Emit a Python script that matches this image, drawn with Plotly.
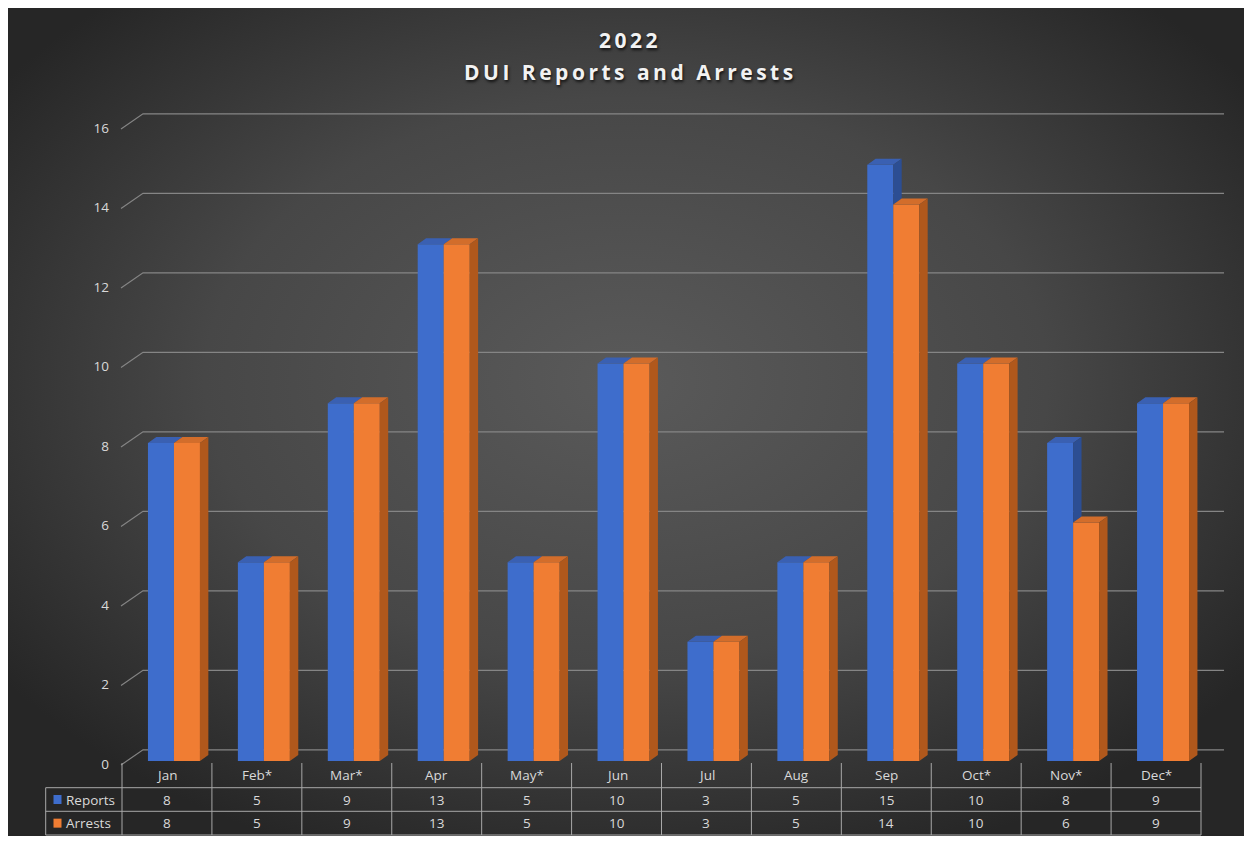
import base64
import plotly.graph_objects as go

# ---------------- data ----------------
months = ["Jan", "Feb*", "Mar*", "Apr", "May*", "Jun", "Jul", "Aug", "Sep", "Oct*", "Nov*", "Dec*"]
reports = [8, 5, 9, 13, 5, 10, 3, 5, 15, 10, 8, 9]
arrests = [8, 5, 9, 13, 5, 10, 3, 5, 14, 10, 6, 9]
y_ticks = [0, 2, 4, 6, 8, 10, 12, 14, 16]
series_names = ["Reports", "Arrests"]
title_year = "2022"
title_main = "DUI Reports and Arrests"

# ---------------- geometry / style ----------------
W, H = 1236, 828
BLUE, ORANGE = "#3e6dcc", "#f07d33"
BLUE_TOP, BLUE_SIDE = "#3a60b2", "#2c4e93"
ORANGE_TOP, ORANGE_SIDE = "#d26d2b", "#b0581c"
TXT = "#d9d9d9"
GRID = "#858585"
TABLE_LINE = "#a8a8a8"
FONT = "Open Sans"

def fx(p):
    return p / W

def fy(p):
    return 1 - p / H

n = len(months)
X0, X1 = 114.0, 1193.0
cell = (X1 - X0) / n
shift = 7.0 / cell
Y_RANGE = [0, 16]
Y_DOM = [fy(753), fy(117)]
px_per_unit = (753 - 117) / (Y_RANGE[1] - Y_RANGE[0])

def ypaper(v):
    return Y_DOM[0] + (v - Y_RANGE[0]) / (Y_RANGE[1] - Y_RANGE[0]) * (Y_DOM[1] - Y_DOM[0])

bw = 26.0 / cell          # single bar width in category units
dx = 8.4 / cell           # 3D depth, x
dy = 6.0 / px_per_unit    # 3D depth, y
idx = list(range(n))

fig = go.Figure()
fig.add_trace(go.Bar(x=idx, y=reports, name=series_names[0], marker=dict(color=BLUE, line=dict(width=0)),
                     hoverinfo="skip"))
fig.add_trace(go.Bar(x=idx, y=arrests, name=series_names[1], marker=dict(color=ORANGE, line=dict(width=0)),
                     hoverinfo="skip"))

# 3D faces computed from the data values
def poly_trace(polys, color):
    xs, ys = [], []
    for p in polys:
        for (a, b) in p:
            xs.append(a)
            ys.append(b)
        xs.append(p[0][0]); ys.append(p[0][1])
        xs.append(None); ys.append(None)
    return go.Scatter(x=xs, y=ys, mode="lines", fill="toself", fillcolor=color,
                      line=dict(width=0, color=color), hoverinfo="skip", showlegend=False)

blue_top, blue_side, or_top, or_side = [], [], [], []
for i, (vb, vo) in enumerate(zip(reports, arrests)):
    bl, bm, br = i - bw, i, i + bw
    blue_top.append([(bl, vb), (bm, vb), (bm + dx, vb + dy), (bl + dx, vb + dy)])
    if vb > vo:
        blue_side.append([(bm, vo), (bm, vb), (bm + dx, vb + dy), (bm + dx, vo + dy)])
    or_top.append([(bm, vo), (br, vo), (br + dx, vo + dy), (bm + dx, vo + dy)])
    or_side.append([(br, 0), (br, vo), (br + dx, vo + dy), (br + dx, dy)])

fig.add_trace(poly_trace(blue_top, BLUE_TOP))
if blue_side:
    fig.add_trace(poly_trace(blue_side, BLUE_SIDE))
fig.add_trace(poly_trace(or_top, ORANGE_TOP))
fig.add_trace(poly_trace(or_side, ORANGE_SIDE))

shapes = []
# 3D back-wall gridlines
for v in y_ticks:
    yf, yb = ypaper(v - 0.1), ypaper(v + 0.28)
    shapes.append(dict(type="path", xref="paper", yref="paper", layer="below",
                       path=f"M {fx(113)},{yf} L {fx(135)},{yb} L {fx(1216)},{yb}",
                       line=dict(color=GRID, width=1.2)))

# data table
row_y = [755, 779.7, 803.3, 827]
leg_left = 37.7
for yy in row_y[1:]:
    shapes.append(dict(type="line", xref="paper", yref="paper", x0=fx(leg_left), x1=fx(X1),
                       y0=fy(yy), y1=fy(yy), line=dict(color=TABLE_LINE, width=1)))
for k in range(n + 1):
    xx = X0 + k * cell
    shapes.append(dict(type="line", xref="paper", yref="paper", x0=fx(xx), x1=fx(xx),
                       y0=fy(row_y[0]), y1=fy(row_y[-1]), line=dict(color=TABLE_LINE, width=1)))
shapes.append(dict(type="line", xref="paper", yref="paper", x0=fx(leg_left), x1=fx(leg_left),
                   y0=fy(row_y[1]), y1=fy(row_y[-1]), line=dict(color=TABLE_LINE, width=1)))

annotations = []
row_centers = [(row_y[j] + row_y[j + 1]) / 2 for j in range(3)]
cell_font = dict(family=FONT, size=13.5, color=TXT)
for k, m in enumerate(months):
    cx = fx(X0 + (k + 0.5) * cell)
    for j, txt in enumerate([m, str(reports[k]), str(arrests[k])]):
        annotations.append(dict(x=cx, y=fy(row_centers[j]), xref="paper", yref="paper", text=txt,
                                xanchor="center", yanchor="middle",
                                showarrow=False, font=cell_font))

for j, (name, col) in enumerate(zip(series_names, [BLUE, ORANGE])):
    cy = row_centers[j + 1]
    shapes.append(dict(type="rect", xref="paper", yref="paper", x0=fx(45.5), x1=fx(53.5),
                       y0=fy(cy - 4.5), y1=fy(cy + 4.5), fillcolor=col, line=dict(width=0)))
    annotations.append(dict(x=fx(55.5), y=fy(cy), xref="paper", yref="paper", text=name,
                            xanchor="left", yanchor="middle",
                            showarrow=False, font=cell_font))

# titles
title_font = dict(family=FONT, size=21, color="#f2f2f2", weight="bold",
                  shadow="1px 2px 3px rgba(0,0,0,0.75)")
annotations.append(dict(x=fx(622), y=fy(31.5), xref="paper", yref="paper",
                        text=f"<span style='letter-spacing:3.5px'>{title_year}</span>",
                        xanchor="center", yanchor="middle", showarrow=False, font=title_font))
annotations.append(dict(x=fx(622), y=fy(63.8), xref="paper", yref="paper",
                        text=f"<span style='letter-spacing:3.5px'>{title_main}</span>",
                        xanchor="center", yanchor="middle", showarrow=False, font=title_font))

# radial gradient background
svg = (f"<svg xmlns='http://www.w3.org/2000/svg' width='{W}' height='{H}'>"
       "<defs><radialGradient id='g' cx='50%' cy='45%' r='62%'>"
       "<stop offset='0' stop-color='#5a5a5a'/><stop offset='0.55' stop-color='#474747'/>"
       "<stop offset='1' stop-color='#262626'/></radialGradient></defs>"
       "<rect width='100%' height='100%' fill='url(#g)'/></svg>")
bg_src = "data:image/svg+xml;base64," + base64.b64encode(svg.encode()).decode()

fig.update_layout(
    width=W, height=H,
    margin=dict(l=0, r=0, t=0, b=0, pad=0, autoexpand=False),
    paper_bgcolor="#3c3c3c",
    plot_bgcolor="rgba(0,0,0,0)",
    barmode="group", bargap=1 - 2 * bw, bargroupgap=0,
    showlegend=False,
    images=[dict(source=bg_src, xref="paper", yref="paper", x=0, y=1, sizex=1, sizey=1,
                 sizing="stretch", xanchor="left", yanchor="top", layer="below")],
    xaxis=dict(domain=[fx(X0), fx(X1)], range=[-0.5 - shift, n - 0.5 - shift], automargin=False,
               showticklabels=False, showgrid=False, zeroline=False, showline=False, ticks=""),
    yaxis=dict(domain=Y_DOM, range=Y_RANGE, tickvals=y_ticks, anchor="free", position=fx(101),
               automargin=False, showgrid=False, zeroline=False, showline=False, ticks="",
               ticklabelshift=3,
               tickfont=dict(family=FONT, size=13.5, color=TXT)),
    shapes=shapes,
    annotations=annotations,
)

fig.write_html("out.html")
